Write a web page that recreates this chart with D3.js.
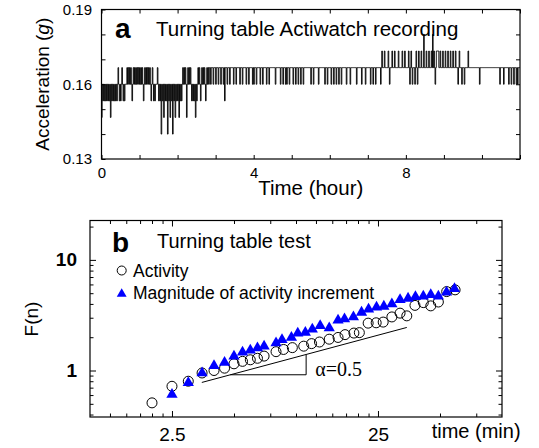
<!DOCTYPE html>
<html>
<head>
<meta charset="utf-8">
<script src="https://cdn.jsdelivr.net/npm/d3@7"></script>
<style>
body { margin: 0; background: #fff; }
svg { display: block; font-family: "Liberation Sans", Arial, Helvetica, sans-serif; }
</style>
</head>
<body>
<div class="chart"></div>
<script>

// ---- panel a : Actiwatch recording on the turning table ----
// the watch reports acceleration in steps of 1/150 g
var accelLevels = [0.14, 0.14667, 0.15333, 0.16, 0.16667, 0.17333, 0.18];
// one string per hour, one digit per 1-minute epoch (index into accelLevels)
var accelHours = [
  "1323232323" + "2323132323" + "2323234323" + "2343232333" + "4343434323" + "4343434343",
  "4343432343" + "4343434323" + "4323233343" + "2323032313" + "2323032313" + "2303231323",
  "2313232343" + "4343134343" + "4323232313" + "2343432343" + "4343234343" + "4434443444",
  "3444344434" + "4434244434" + "4434444434" + "4434444434" + "4434444434" + "4434444434",
  "3444344444" + "3444344444" + "3444344444" + "4444344444" + "4434443444" + "3434443444",
  "4434443444" + "3444344434" + "4444444444" + "3444344444" + "4434444444" + "4434443444",
  "4434443444" + "3444344434" + "4444443444" + "4434444444" + "4434444444" + "3444443444",
  "4444344434" + "4434444444" + "3454445444" + "4454344454" + "4454444454" + "4444544454",
  "4444543454" + "3444345434" + "5444544464" + "4454445444" + "5464543455" + "5544544454",
  "4454445444" + "5444544454" + "4434544434" + "4434444454" + "4444444444" + "4444443444",
  "4444444444" + "4444444444" + "4444444434" + "4444344444" + "4434443444" + "3444343444"
];
var hourTicks = [0, 1, 2, 3, 4, 5, 6, 7, 8, 9, 10, 11];
var hourLabels = [0, 4, 8];
var accelTicks = [0.13, 0.14, 0.15, 0.16, 0.17, 0.18, 0.19];
var accelLabels = [0.13, 0.16, 0.19];

// ---- panel b : fluctuation function F(n) ----
var activityN = [2, 2.5, 3, 3.5, 4, 4.5, 5, 5.5, 6, 6.5, 7, 8, 8.7, 9.6, 10.9, 11.9, 13, 14.5, 16, 17.3,
                 19.1, 20.3, 22.4, 24.5, 26.5, 29.2, 32, 34.5, 37.8, 41.5, 45.1, 49.1, 53.9, 59.2];
var activityF = [0.51, 0.72, 0.80, 0.95, 1.0, 1.05, 1.15, 1.21, 1.25, 1.29, 1.35, 1.48, 1.55, 1.61, 1.66, 1.75, 1.81, 1.92, 1.99, 2.11,
                 2.18, 2.20, 2.68, 2.70, 2.74, 3.05, 3.30, 3.12, 3.88, 4.11, 3.84, 4.16, 5.17, 5.36];
var incrementN = [2.5, 3, 3.5, 4, 4.5, 5, 5.5, 6, 6.5, 7, 8, 8.55, 9.5, 10.2, 11.1, 12, 13.1, 14.5, 16, 17.2,
                  19, 20.8, 22.5, 24.6, 26.7, 29.2, 32, 35, 38, 41.5, 45.1, 49.1, 53.8, 58.8];
var incrementF = [0.625, 0.80, 0.98, 1.14, 1.22, 1.39, 1.51, 1.57, 1.65, 1.71, 1.83, 1.96, 2.05, 2.24, 2.28, 2.43, 2.62, 2.50, 2.93, 3.02,
                  3.15, 3.46, 3.70, 3.84, 3.92, 4.11, 4.51, 4.63, 4.78, 4.83, 5.00, 4.83, 5.25, 5.67];
var legendNames = ["Activity", "Magnitude of activity increment"];
// slope 0.5 guide and its triangle, in (min, F) units
var guideLine = [[3.49, 0.78], [34.5, 2.45]];
var guideStep = [[4.8, 0.915], [11.2, 0.915], [11.2, 1.39]];
var guideLabelAt = [12.4, 0.895];
var timeTicksMajor = [2.5, 25];
var timeTicksMinor = [1.25, 1.5, 1.75, 2, 2.25, 5, 7.5, 10, 12.5, 15, 17.5, 20, 22.5, 50, 75];
var fTicksMajor = [1, 10];
var fTicksMinor = [0.4, 0.5, 0.6, 0.7, 0.8, 0.9, 2, 3, 4, 5, 6, 7, 8, 9, 20];

var width = 539, height = 448;
var svg = d3.select('.chart').append('svg').attr('width', width).attr('height', height);

// =================== panel a ===================
var a = { left: 101.5, right: 520, top: 9.5, bottom: 159 };
var xA = d3.scaleLinear().domain([0, 11]).range([a.left, a.right]);
var yA = d3.scaleLinear().domain([0.13, 0.19]).range([a.bottom, a.top]);

var accel = [];
accelHours.forEach(function(s, h) {
  for (var i = 0; i < s.length; i++) {
    accel.push({ t: h + i / s.length, v: accelLevels[+s[i]] });
  }
});
accel.push({ t: 11, v: accel[accel.length - 1].v });

svg.append("clipPath").attr("id", "clipA").append("rect")
  .attr("x", a.left).attr("y", a.top).attr("width", a.right - a.left).attr("height", a.bottom - a.top);

svg.append("path").datum(accel)
  .attr("clip-path", "url(#clipA)")
  .attr("fill", "none").attr("stroke", "#000").attr("stroke-width", 0.9)
  .attr("d", d3.line().x(function(d){ return xA(d.t); }).y(function(d){ return yA(d.v); }).curve(d3.curveStepAfter));

function styleAxis(g, size) {
  g.select(".domain").remove();
  g.selectAll(".tick line").attr("stroke", "#000");
  g.selectAll("text").attr("fill", "#000").attr("font-size", size).attr("font-family", "Liberation Sans, Arial, sans-serif");
}

svg.append("g").attr("transform", "translate(0," + a.bottom + ")")
  .call(d3.axisBottom(xA).tickValues(hourTicks).tickSize(-4).tickPadding(8.5)
    .tickFormat(function(d){ return hourLabels.indexOf(d) >= 0 ? d : ""; }))
  .call(styleAxis, 15);
svg.append("g").attr("transform", "translate(0," + a.top + ")")
  .call(d3.axisTop(xA).tickValues(hourTicks).tickSize(-4).tickFormat(""))
  .call(styleAxis, 15);
svg.append("g").attr("transform", "translate(" + a.left + ",0)")
  .call(d3.axisLeft(yA).tickValues(accelTicks).tickSize(-4).tickPadding(9.5)
    .tickFormat(function(d){ return accelLabels.indexOf(d) >= 0 ? d3.format(".2f")(d) : ""; }))
  .call(styleAxis, 15);
svg.append("g").attr("transform", "translate(" + a.right + ",0)")
  .call(d3.axisRight(yA).tickValues(accelTicks).tickSize(-4).tickFormat(""))
  .call(styleAxis, 15);

svg.append("rect").attr("x", a.left).attr("y", a.top)
  .attr("width", a.right - a.left).attr("height", a.bottom - a.top)
  .attr("fill", "none").attr("stroke", "#000").attr("stroke-width", 1.2);

svg.append("text").attr("x", 115).attr("y", 38).attr("font-size", 28).attr("font-weight", "bold").text("a");
svg.append("text").attr("x", 156).attr("y", 36).attr("font-size", 20.5).text("Turning table Actiwatch recording");
svg.append("text").attr("x", (a.left + a.right) / 2).attr("y", 195).attr("text-anchor", "middle")
  .attr("font-size", 20.5).text("Time (hour)");
var accLab = svg.append("text").attr("transform", "translate(49," + (a.top + a.bottom) / 2 + ") rotate(-90)")
  .attr("text-anchor", "middle").attr("font-size", 19);
accLab.append("tspan").text("Acceleration (");
accLab.append("tspan").attr("font-style", "italic").text("g");
accLab.append("tspan").text(")");

// =================== panel b ===================
var b = { left: 90, right: 502, top: 220.5, bottom: 417 };
var xB = d3.scaleLog().domain([1, 100]).range([b.left, b.right]);
var yB = d3.scaleLog().domain([0.38, 22.7]).range([b.bottom, b.top]);

// minor then major ticks, all four sides, pointing in
[[timeTicksMinor, 3.5], [timeTicksMajor, 6]].forEach(function(tk) {
  svg.append("g").attr("transform", "translate(0," + b.bottom + ")")
    .call(d3.axisBottom(xB).tickValues(tk[0]).tickSize(-tk[1]).tickPadding(10.5)
      .tickFormat(function(d){ return tk[1] > 5 ? d : ""; }))
    .call(styleAxis, 19);
  svg.append("g").attr("transform", "translate(0," + b.top + ")")
    .call(d3.axisTop(xB).tickValues(tk[0]).tickSize(-tk[1]).tickFormat(""))
    .call(styleAxis, 19);
});
[[fTicksMinor, 3.5], [fTicksMajor, 6]].forEach(function(tk) {
  svg.append("g").attr("transform", "translate(" + b.left + ",0)")
    .call(d3.axisLeft(yB).tickValues(tk[0]).tickSize(-tk[1]).tickPadding(13)
      .tickFormat(function(d){ return tk[1] > 5 ? d : ""; }))
    .call(styleAxis, 19)
    .selectAll("text").attr("font-weight", "bold");
  svg.append("g").attr("transform", "translate(" + b.right + ",0)")
    .call(d3.axisRight(yB).tickValues(tk[0]).tickSize(-tk[1]).tickFormat(""))
    .call(styleAxis, 19);
});

svg.append("rect").attr("x", b.left).attr("y", b.top)
  .attr("width", b.right - b.left).attr("height", b.bottom - b.top)
  .attr("fill", "none").attr("stroke", "#000").attr("stroke-width", 1.2);

// slope guide
var gl = d3.line().x(function(d){ return xB(d[0]); }).y(function(d){ return yB(d[1]); });
svg.append("path").attr("d", gl(guideLine)).attr("fill", "none").attr("stroke", "#000").attr("stroke-width", 1);
svg.append("path").attr("d", gl(guideStep)).attr("fill", "none").attr("stroke", "#000").attr("stroke-width", 1);
svg.append("text").attr("x", xB(guideLabelAt[0])).attr("y", yB(guideLabelAt[1]))
  .attr("font-family", "Liberation Serif, Times New Roman, serif").attr("font-size", 20)
  .text("\u03b1=0.5");

var activity = activityN.map(function(n, i){ return [n, activityF[i]]; });
var increment = incrementN.map(function(n, i){ return [n, incrementF[i]]; });
var tri = d3.symbol().type(d3.symbolTriangle).size(55);

svg.append("g").selectAll("circle").data(activity).enter().append("circle")
  .attr("cx", function(d){ return xB(d[0]); }).attr("cy", function(d){ return yB(d[1]); })
  .attr("r", 5).attr("fill", "none").attr("stroke", "#000").attr("stroke-width", 1);

svg.append("g").selectAll("path").data(increment).enter().append("path")
  .attr("d", tri)
  .attr("transform", function(d){ return "translate(" + xB(d[0]) + "," + (yB(d[1]) + 1.5) + ")"; })
  .attr("fill", "#0000ff");

// legend
svg.append("circle").attr("cx", 121.7).attr("cy", 270.5).attr("r", 4.5)
  .attr("fill", "none").attr("stroke", "#000").attr("stroke-width", 1);
svg.append("path").attr("d", d3.symbol().type(d3.symbolTriangle).size(42))
  .attr("transform", "translate(121.7,294)").attr("fill", "#0000ff");
svg.append("text").attr("x", 133).attr("y", 276.5).attr("font-size", 17.5).text(legendNames[0]);
svg.append("text").attr("x", 133).attr("y", 299).attr("font-size", 17.5).text(legendNames[1]);

svg.append("text").attr("x", 112).attr("y", 252).attr("font-size", 28).attr("font-weight", "bold").text("b");
svg.append("text").attr("x", 157).attr("y", 248).attr("font-size", 20).text("Turning table test");
svg.append("text").attr("x", 431.7).attr("y", 438).attr("font-size", 20).text("time (min)");
svg.append("text").attr("transform", "translate(38," + 319 + ") rotate(-90)")
  .attr("text-anchor", "middle").attr("font-size", 19).text("F(n)");

</script>
</body>
</html>
